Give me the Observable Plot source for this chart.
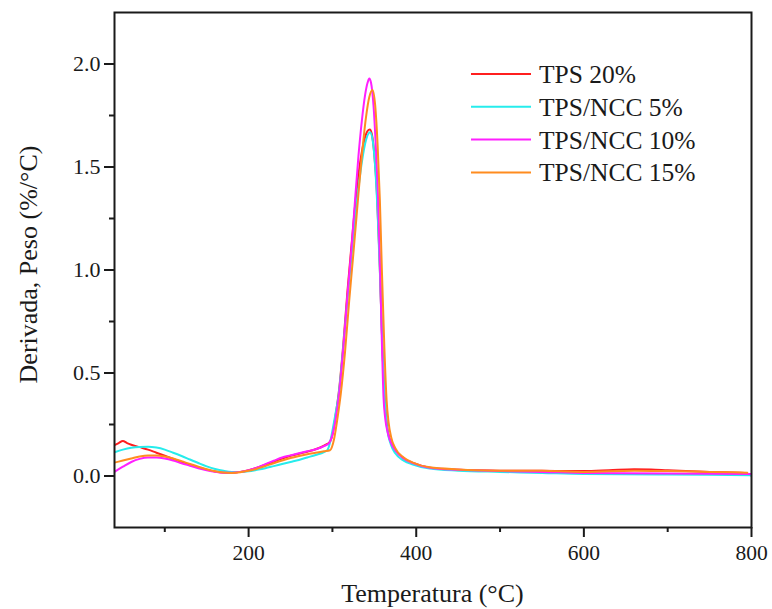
<!DOCTYPE html>
<html><head><meta charset="utf-8">
<script src="https://cdn.jsdelivr.net/npm/d3@7"></script>
<script src="https://cdn.jsdelivr.net/npm/@observablehq/plot@0.6"></script>
<style>body{margin:0;background:#fff;}</style>
</head><body><div id="chart"></div>
<script>
const seriesNames = ["TPS 20%", "TPS/NCC 5%", "TPS/NCC 10%", "TPS/NCC 15%"];
const seriesColors = ["#ff1f1f", "#26ecec", "#ff1fff", "#ff8c1f"];

const tRed = [40,45,50,55,60,70,80,90,100,110,120,130,140,150,160,170,180,190,200,210,220,230,240,250,260,270,280,290,297,300,304,308,313,318,323,328,333,338,342,344.6,347,350,353,356,359,362,365,370,375,385,396,416,450,500,550,600,630,660,680,700,750,792,800];
const vRed = [0.15,0.16,0.17,0.16,0.152,0.14,0.128,0.113,0.098,0.083,0.068,0.054,0.042,0.031,0.022,0.017,0.016,0.02,0.028,0.04,0.055,0.07,0.085,0.098,0.108,0.118,0.13,0.148,0.166,0.2,0.3,0.42,0.64,0.9,1.13,1.35,1.52,1.63,1.675,1.682,1.66,1.56,1.38,1.08,0.7,0.4,0.25,0.16,0.125,0.085,0.063,0.04,0.03,0.026,0.025,0.024,0.028,0.033,0.032,0.028,0.02,0.015,0.002];

const tCyan = [40,50,60,70,80,90,100,110,120,130,140,150,160,170,180,190,200,210,220,230,240,250,260,270,280,290,294,297,300,304,307,312,318,324,330,335,340,345,348,351,354,357,360,362,365,370,375,385,396,416,450,500,550,600,700,800];
const vCyan = [0.115,0.128,0.137,0.141,0.142,0.138,0.128,0.113,0.097,0.08,0.063,0.047,0.034,0.025,0.02,0.02,0.023,0.03,0.038,0.048,0.058,0.068,0.078,0.09,0.102,0.116,0.126,0.16,0.22,0.31,0.38,0.58,0.86,1.12,1.36,1.52,1.63,1.669,1.63,1.5,1.27,0.95,0.58,0.4,0.24,0.15,0.11,0.075,0.056,0.036,0.026,0.02,0.015,0.01,0.007,0.004];

const tMagenta = [40,50,60,70,80,90,100,110,120,130,140,150,160,170,180,190,200,210,220,230,240,250,260,270,280,290,296,300,304,308,313,318,323,327,331,335,339,342,344,346,349,352,354.5,357,359,361,363,366,370,375,385,396,416,450,500,550,600,700,800];
const vMagenta = [0.02,0.045,0.068,0.083,0.09,0.09,0.085,0.075,0.062,0.05,0.038,0.028,0.02,0.016,0.016,0.02,0.028,0.04,0.058,0.074,0.09,0.1,0.11,0.12,0.13,0.145,0.16,0.2,0.28,0.4,0.62,0.88,1.12,1.34,1.55,1.72,1.85,1.91,1.93,1.91,1.8,1.58,1.34,0.98,0.65,0.38,0.28,0.21,0.16,0.125,0.085,0.063,0.04,0.03,0.024,0.02,0.015,0.012,0.01];

const tOrange = [40,50,60,70,80,90,100,110,120,130,140,150,160,170,180,190,200,210,220,230,240,250,260,270,280,290,297,302,306,310,315,320,325,330,335,340,344,347.8,351,354,356.6,359,362,364.6,367,370,375,385,396,416,450,500,550,600,660,700,750,795];
const vOrange = [0.065,0.075,0.085,0.095,0.1,0.1,0.095,0.085,0.072,0.058,0.045,0.033,0.023,0.017,0.015,0.018,0.025,0.035,0.048,0.062,0.075,0.087,0.097,0.106,0.113,0.12,0.125,0.18,0.28,0.4,0.6,0.85,1.08,1.32,1.55,1.74,1.84,1.874,1.8,1.6,1.34,1.0,0.62,0.37,0.26,0.19,0.135,0.09,0.065,0.042,0.032,0.026,0.025,0.02,0.026,0.024,0.02,0.016];

const xMajorTicks = [200, 400, 600, 800];
const xMinorTicks = [100, 300, 500, 700];
const yMajorTicks = [0, 0.5, 1, 1.5, 2];
const yMinorTicks = [0.25, 0.75, 1.25, 1.75];
const xTitle = "Temperatura (°C)";
const yTitle = "Derivada, Peso (%/°C)";

const seriesT = [tRed, tCyan, tMagenta, tOrange];
const seriesV = [vRed, vCyan, vMagenta, vOrange];
const data = [];
seriesT.forEach((T, i) => T.forEach((t, j) => data.push({series: seriesNames[i], T: t, v: seriesV[i][j]})));

const fontFamily = '"Liberation Serif", "Times New Roman", serif';
const ink = "#1a1a1a";

const plot = Plot.plot({
  width: 772, height: 609,
  marginLeft: 114, marginRight: 21, marginTop: 12, marginBottom: 82,
  style: {fontFamily, fontSize: "21.5px", color: ink, background: "white"},
  x: {domain: [40, 800]},
  y: {domain: [-0.25, 2.25]},
  color: {domain: seriesNames, range: seriesColors},
  marks: [
    Plot.line(data, {x: "T", y: "v", stroke: "series", z: "series", strokeWidth: 2, curve: "monotone-x", clip: true}),
    Plot.frame({stroke: ink, strokeWidth: 2}),
    Plot.axisX({ticks: xMajorTicks, tickSize: 10, tickPadding: 7, tickFormat: d3.format("d"), label: null, strokeWidth: 2, fontFamily, fontSize: 21.5}),
    Plot.axisX({ticks: xMinorTicks, tickSize: 5, tickFormat: () => "", label: null, strokeWidth: 2}),
    Plot.axisY({ticks: yMajorTicks, tickSize: 10, tickPadding: 4, tickFormat: d3.format(".1f"), label: null, strokeWidth: 2, fontFamily, fontSize: 22}),
    Plot.axisY({ticks: yMinorTicks, tickSize: 5, tickFormat: () => "", label: null, strokeWidth: 2})
  ]
});

const svg = d3.select(plot);
svg.selectAll("text").style("font-family", fontFamily);
const xr = plot.scale("x").range;
const yr = plot.scale("y").range;
svg.append("text")
  .attr("x", (xr[0] + xr[1]) / 2).attr("y", 602)
  .attr("text-anchor", "middle").attr("fill", ink)
  .style("font-size", "26px").style("font-family", fontFamily)
  .text(xTitle);
svg.append("text")
  .attr("transform", `translate(37,${(yr[0] + yr[1]) / 2 - 5}) rotate(-90)`)
  .attr("text-anchor", "middle").attr("fill", ink)
  .style("font-size", "26px").style("font-family", fontFamily)
  .text(yTitle);

const lg = svg.append("g").attr("transform", "translate(471,74)");
seriesNames.forEach((name, i) => {
  const g = lg.append("g").attr("transform", `translate(0,${i * 32.8})`);
  g.append("line").attr("x1", 0).attr("x2", 60).attr("y1", 0).attr("y2", 0)
    .attr("stroke", seriesColors[i]).attr("stroke-width", 2);
  g.append("text").attr("x", 68).attr("y", 0).attr("dy", "0.35em")
    .attr("text-anchor", "start")
    .attr("fill", ink).style("font-size", "25.5px").style("font-family", fontFamily)
    .text(name);
});

document.getElementById("chart").appendChild(plot);
</script>
</body></html>
